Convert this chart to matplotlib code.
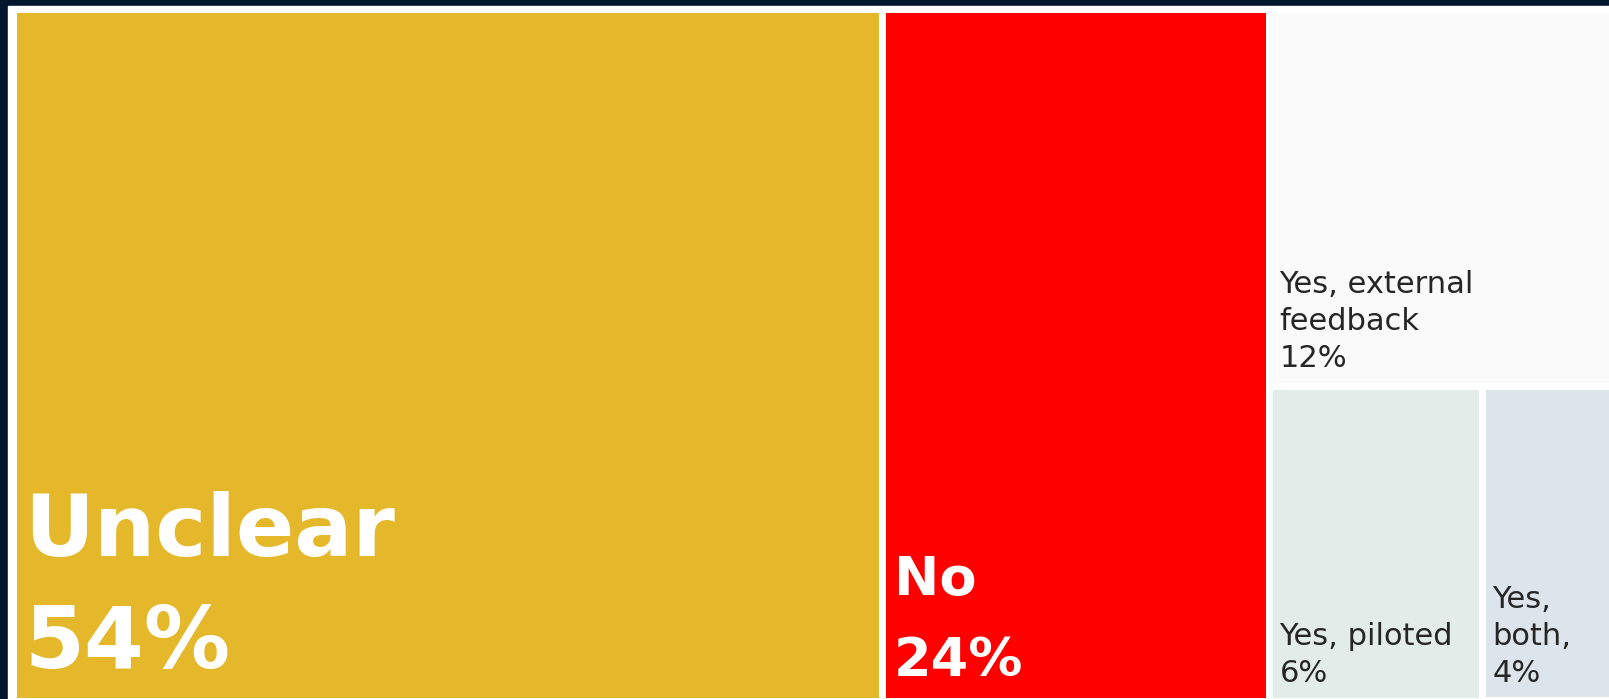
import matplotlib
matplotlib.use("Agg")
import matplotlib.pyplot as plt
from matplotlib.patches import Rectangle

# data
labels = ["Unclear\n54%", "No\n24%", "Yes, external\nfeedback\n12%",
          "Yes, piloted\n6%", "Yes,\nboth,\n4%"]
values = [54, 24, 12, 6, 4]

colors = ["#E5B82B", "#FF0000", "#FAFAFA", "#E2EDE9", "#DCE5EB"]
text_colors = ["white", "white", "#262626", "#262626", "#262626"]
font_sizes = [62, 39, 22, 22, 22]
font_weights = ["bold", "bold", "normal", "normal", "normal"]
line_spacings = [1.45, 1.7, 1.35, 1.35, 1.35]

NAVY = "#02172F"
FIG_W, FIG_H = 1609, 699


def worst(row, side):
    s = sum(row)
    return max(max(side * side * v / (s * s), s * s / (side * side * v)) for v in row)


def squarify(vals, x, y, w, h):
    rects = []
    vals = list(vals)
    while vals:
        side = min(w, h)
        row = [vals[0]]
        i = 1
        while i < len(vals) and worst(row + [vals[i]], side) <= worst(row, side):
            row.append(vals[i])
            i += 1
        s = sum(row)
        if w >= h:
            cw = s / h
            yy = y
            for v in row:
                rects.append((x, yy, cw, v / cw))
                yy += v / cw
            x += cw
            w -= cw
        else:
            rh = s / w
            xx = x
            for v in row:
                rects.append((xx, y, v / rh, rh))
                xx += v / rh
            y += rh
            h -= rh
        vals = vals[i:]
    return rects


fig = plt.figure(figsize=(FIG_W / 100, FIG_H / 100), dpi=100, facecolor=NAVY)
# white frame inside the navy border
fig.patches.append(Rectangle((8 / FIG_W, 0), 1, (FIG_H - 6) / FIG_H,
                             transform=fig.transFigure, color="white", zorder=-10))

# layout region (runs a little past the right and bottom edges)
lay_w, lay_h = 1611, 692
ax = fig.add_axes([12.5 / FIG_W, -1.5 / FIG_H, lay_w / FIG_W, lay_h / FIG_H])
ax.set_facecolor("none")
W = 100.0
H = W * lay_h / lay_w
ax.set_xlim(0, W)
ax.set_ylim(H, 0)
ax.axis("off")

total = sum(values)
scaled = [v * W * H / total for v in values]
rects = squarify(scaled, 0, 0, W, H)

for (x, y, w, h), c, lab, tc, fs, fw, ls in zip(rects, colors, labels, text_colors,
                                               font_sizes, font_weights, line_spacings):
    ax.add_patch(Rectangle((x, y), w, h, facecolor=c, edgecolor="white",
                           linewidth=5.0, joinstyle="miter", clip_on=False))
    ax.annotate(lab, xy=(x, y + h), xytext=(8.5 if fw == "bold" else 7.5, 8.5 + 0.03 * fs),
                textcoords="offset points", ha="left", va="bottom",
                color=tc, fontsize=fs, fontweight=fw, linespacing=ls,
                family="DejaVu Sans", annotation_clip=False)

fig.savefig("out.png", dpi=100, facecolor=NAVY)
